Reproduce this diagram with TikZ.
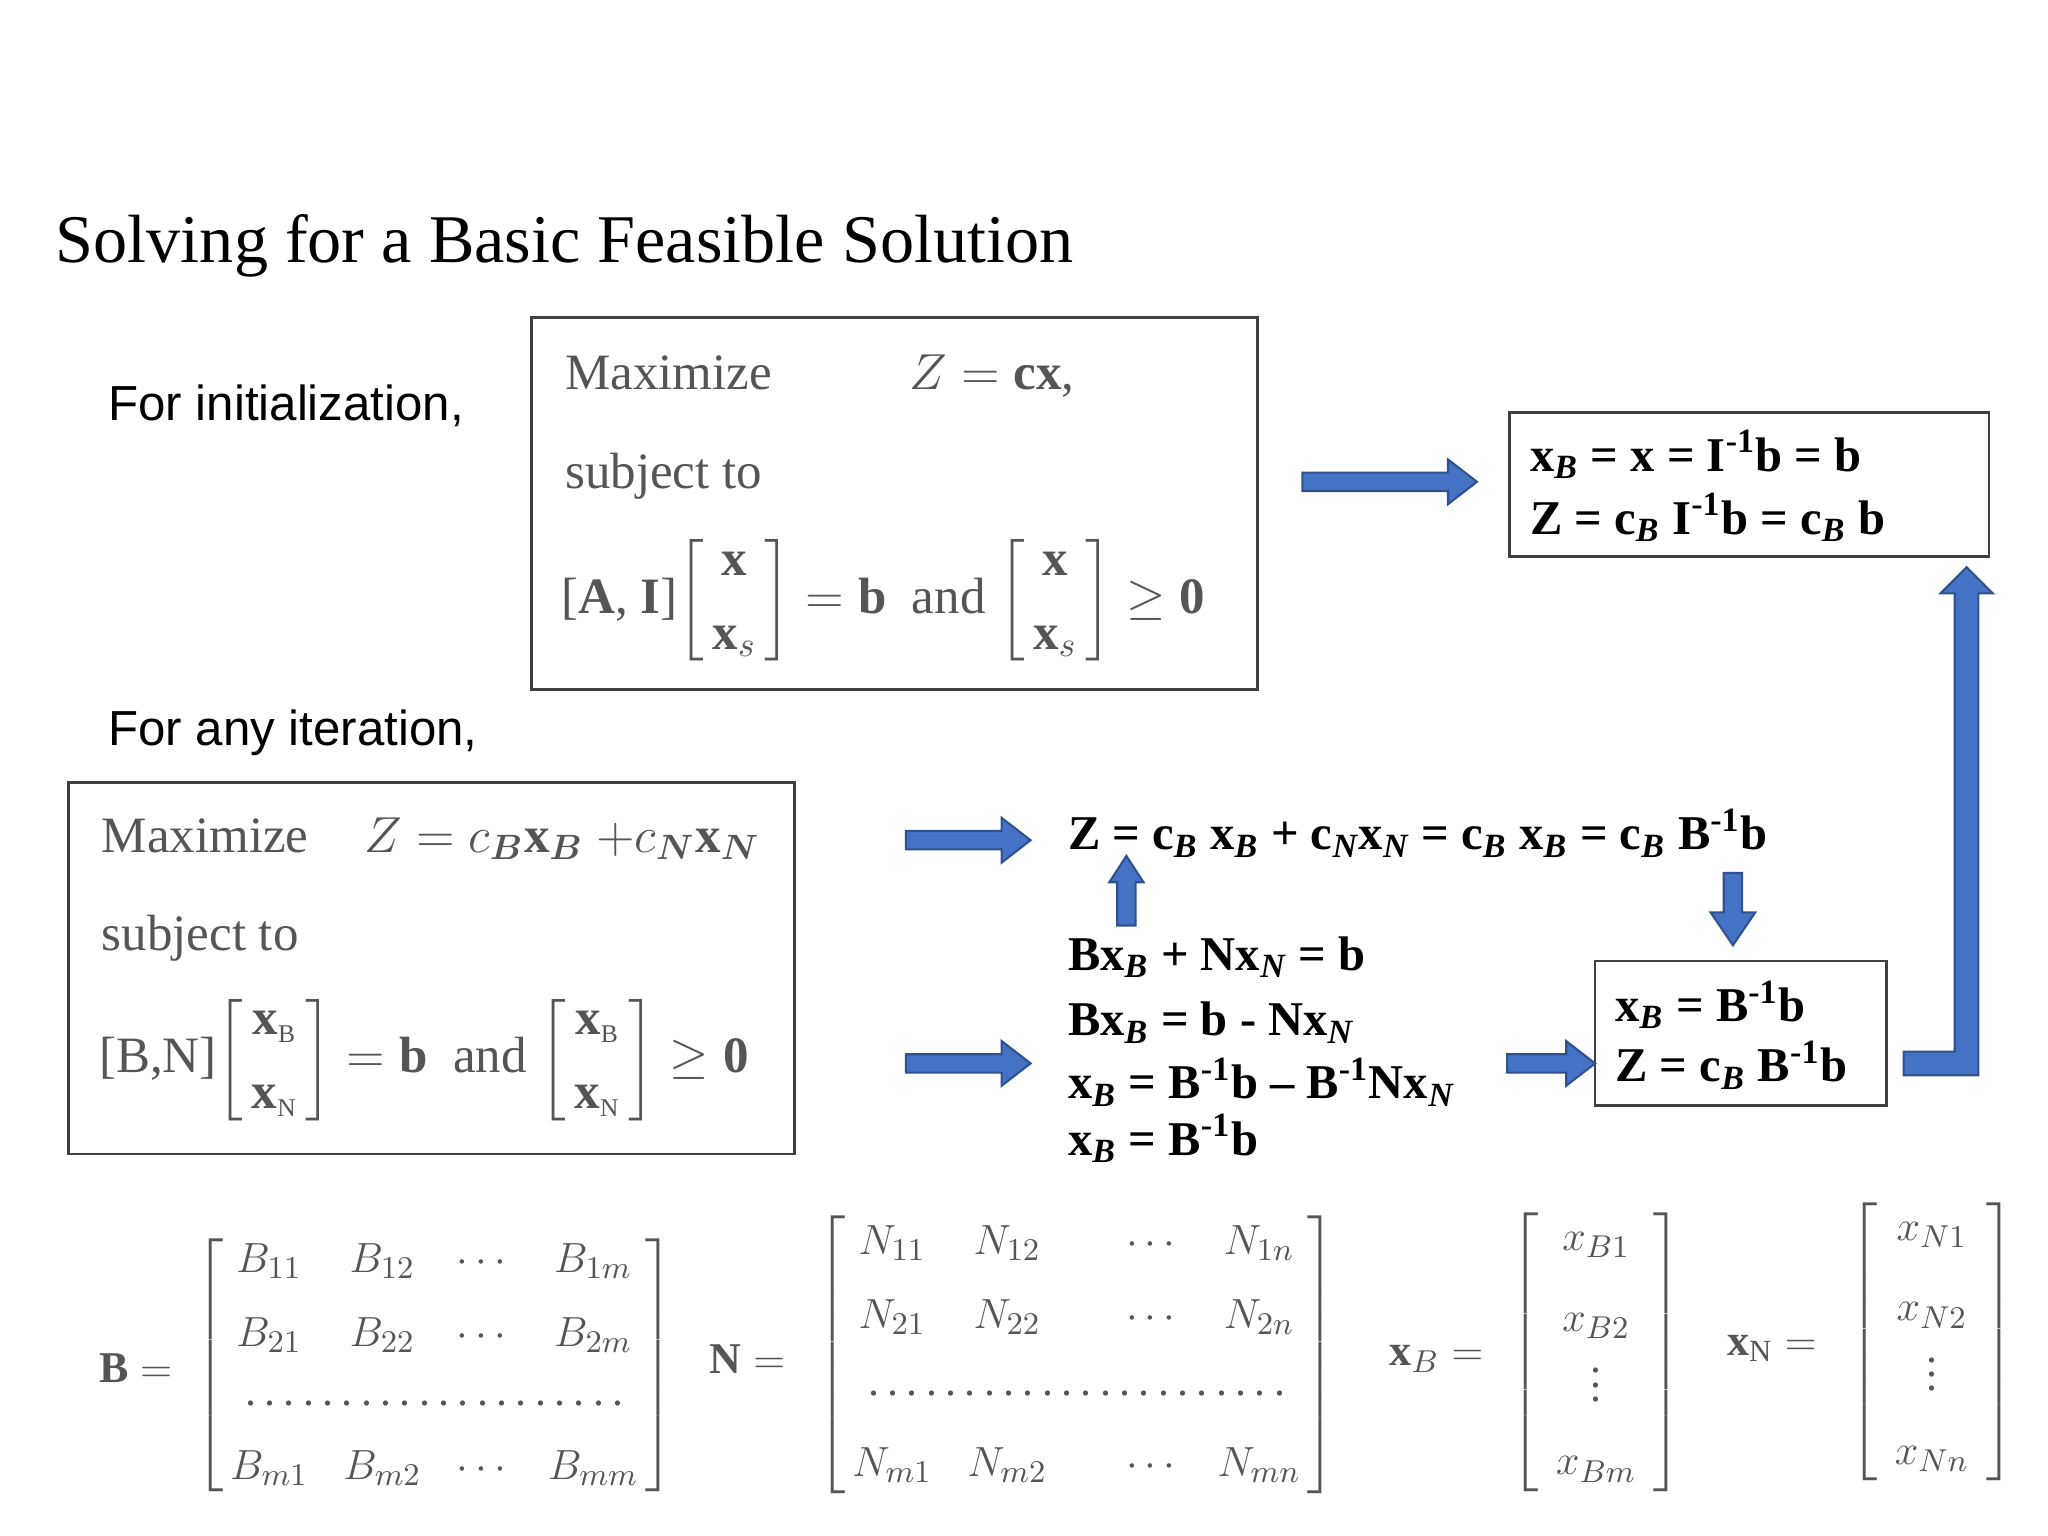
\documentclass[tikz,border=0pt]{standalone}
\usepackage{amsmath}
\usepackage{fontspec}
\setmainfont{Liberation Serif}
\newfontfamily\lsans{Liberation Sans}
\definecolor{arfill}{RGB}{68,114,196}
\definecolor{ardraw}{RGB}{47,82,143}
\definecolor{scan}{RGB}{85,85,85}
\tikzset{
 ar/.style={fill=arfill,draw=ardraw,line width=0.6pt},
 bx/.style={draw=black!75,line width=0.8pt},
 lbl/.style={anchor=base west,inner sep=0pt,font=\lsans\fontsize{14}{16}\selectfont},
 eq/.style={anchor=base west,inner sep=0pt,font=\bfseries\fontsize{13.8}{16}\selectfont},
 sc/.style={anchor=base west,inner sep=0pt,text=scan,font=\fontsize{14.5}{17}\selectfont},
 mt/.style={inner sep=0pt,text=scan,font=\fontsize{12.5}{15}\selectfont}
}
\newcommand\rarw[3]{\fill[ar] (#1,#3-7)--(#2-22,#3-7)--(#2-22,#3-17)--(#2,#3)--(#2-22,#3+17)--(#2-22,#3+7)--(#1,#3+7)--cycle;}
\newcommand\vsub[1]{\textsubscript{\itshape #1}}
\begin{document}
\begin{tikzpicture}[x=0.013128cm,y=-0.013128cm]
\useasboundingbox (0,0) rectangle (1560,1170);
\node[anchor=base west,inner sep=0pt,font=\fontsize{19.4}{21}\selectfont] (title) at (42,200) {Solving for a Basic Feasible Solution};
\node[lbl] (l1) at (82,320) {For initialization,};
\node[lbl] (l2) at (82,568) {For any iteration,};
% box 1
\draw[bx] (405,242) rectangle (958,525);
\node[sc] (m1) at (430,297) {Maximize \hspace{2.2em} $Z=\mathbf{cx}$,};
\node[sc] (s1) at (430,372) {subject to};
\node[sc] (c1) at (427,467) {[\textbf{A}, \textbf{I}]$\left[\begin{array}{@{\,}c@{\,}}\mathbf{x}\\[4pt] \mathbf{x}_s\end{array}\right]=\mathbf{b}$\ \ and\ $\left[\begin{array}{@{\,}c@{\,}}\mathbf{x}\\[4pt] \mathbf{x}_s\end{array}\right]\geq \mathbf{0}$};
% box 2
\draw[bx] (52,596) rectangle (605,879);
\node[sc] (m2) at (77,649) {Maximize \hspace{0.6em} $Z=c_{\boldsymbol B}\mathbf{x}_{\boldsymbol B}\ {+}c_{\boldsymbol N}\mathbf{x}_{\boldsymbol N}$};
\node[sc] (s2) at (77,724) {subject to};
\node[sc] (c2) at (75,817) {[B,N]$\left[\begin{array}{@{\,}c@{\,}}\mathbf{x}_{\scriptscriptstyle\mathrm B}\\[4pt] \mathbf{x}_{\scriptscriptstyle\mathrm N}\end{array}\right]=\mathbf{b}$\ \ and\ $\left[\begin{array}{@{\,}c@{\,}}\mathbf{x}_{\scriptscriptstyle\mathrm B}\\[4pt] \mathbf{x}_{\scriptscriptstyle\mathrm N}\end{array}\right]\geq \mathbf{0}$};
% top right box
\draw[bx] (1150,314) rectangle (1515,424);
\node[eq] (r1) at (1165,359) {x\vsub{B} = x = I\textsuperscript{-1}b = b};
\node[eq] (r2) at (1165,407) {Z = c\vsub{B} I\textsuperscript{-1}b = c\vsub{B} b};
% middle equations
\node[eq] (z) at (813,647) {Z = c\vsub{B} x\vsub{B} + c\vsub{N}x\vsub{N} = c\vsub{B} x\vsub{B} = c\vsub{B} B\textsuperscript{-1}b};
\node[eq] (e1) at (813,739) {Bx\vsub{B} + Nx\vsub{N} = b};
\node[eq] (e2) at (813,789) {Bx\vsub{B} = b - Nx\vsub{N}};
\node[eq] (e3) at (813,837) {x\vsub{B} = B\textsuperscript{-1}b -- B\textsuperscript{-1}Nx\vsub{N}};
\node[eq] (e4) at (813,880) {x\vsub{B} = B\textsuperscript{-1}b};
% box 3
\draw[bx] (1215,732) rectangle (1437,842);
\node[eq] (b1) at (1230,778) {x\vsub{B} = B\textsuperscript{-1}b};
\node[eq] (b2) at (1230,824) {Z = c\vsub{B} B\textsuperscript{-1}b};
% arrows
\rarw{992}{1125}{367}
\rarw{690}{785}{640}
\rarw{690}{785}{810}
\rarw{1148}{1215}{810}
\fill[ar] (851,705)--(851,672)--(845,672)--(858,652)--(871,672)--(865,672)--(865,705)--cycle;
\fill[ar] (1313,665)--(1313,695)--(1303,695)--(1320,720)--(1337,695)--(1327,695)--(1327,665)--cycle;
\fill[ar] (1450,801)--(1489,801)--(1489,452)--(1478,452)--(1498,432)--(1518,452)--(1507,452)--(1507,819)--(1450,819)--cycle;
% bottom matrices
\node[mt,anchor=west] (Bl) at (75,1042) {$\mathbf{B}=$};
\node[mt,anchor=west] (Bm) at (148,1040) {$\left[\begin{array}{@{\,}cccc@{\,}}B_{11}&B_{12}&\cdots&B_{1m}\\[6pt] B_{21}&B_{22}&\cdots&B_{2m}\\[2pt] \multicolumn{4}{c}{\dotfill}\\[6pt] B_{m1}&B_{m2}&\cdots&B_{mm}\end{array}\right]$};
\node[mt,anchor=west] (Nl) at (540,1035) {$\mathbf{N}=$};
\node[mt,anchor=west] (Nm) at (622,1032) {$\left[\begin{array}{@{\,}cccc@{\,}}N_{11}&N_{12}&\quad\cdots&N_{1n}\\[6pt] N_{21}&N_{22}&\quad\cdots&N_{2n}\\[4pt] \multicolumn{4}{c}{\dotfill}\\[8pt] N_{m1}&N_{m2}&\quad\cdots&N_{mn}\end{array}\right]$};
\node[mt,anchor=west] (xbl) at (1058,1035) {$\mathbf{x}_{B}=$};
\node[mt,anchor=west] (xbm) at (1150,1030) {$\left[\begin{array}{c}x_{B1}\\[8pt] x_{B2}\\ \vdots\\[6pt] x_{Bm}\end{array}\right]$};
\node[mt,anchor=west] (xnl) at (1315,1027) {$\mathbf{x}_{\mathrm N}=$};
\node[mt,anchor=west] (xnm) at (1408,1022) {$\left[\begin{array}{c}x_{N1}\\[8pt] x_{N2}\\ \vdots\\[6pt] x_{Nn}\end{array}\right]$};
\end{tikzpicture}
\end{document}
